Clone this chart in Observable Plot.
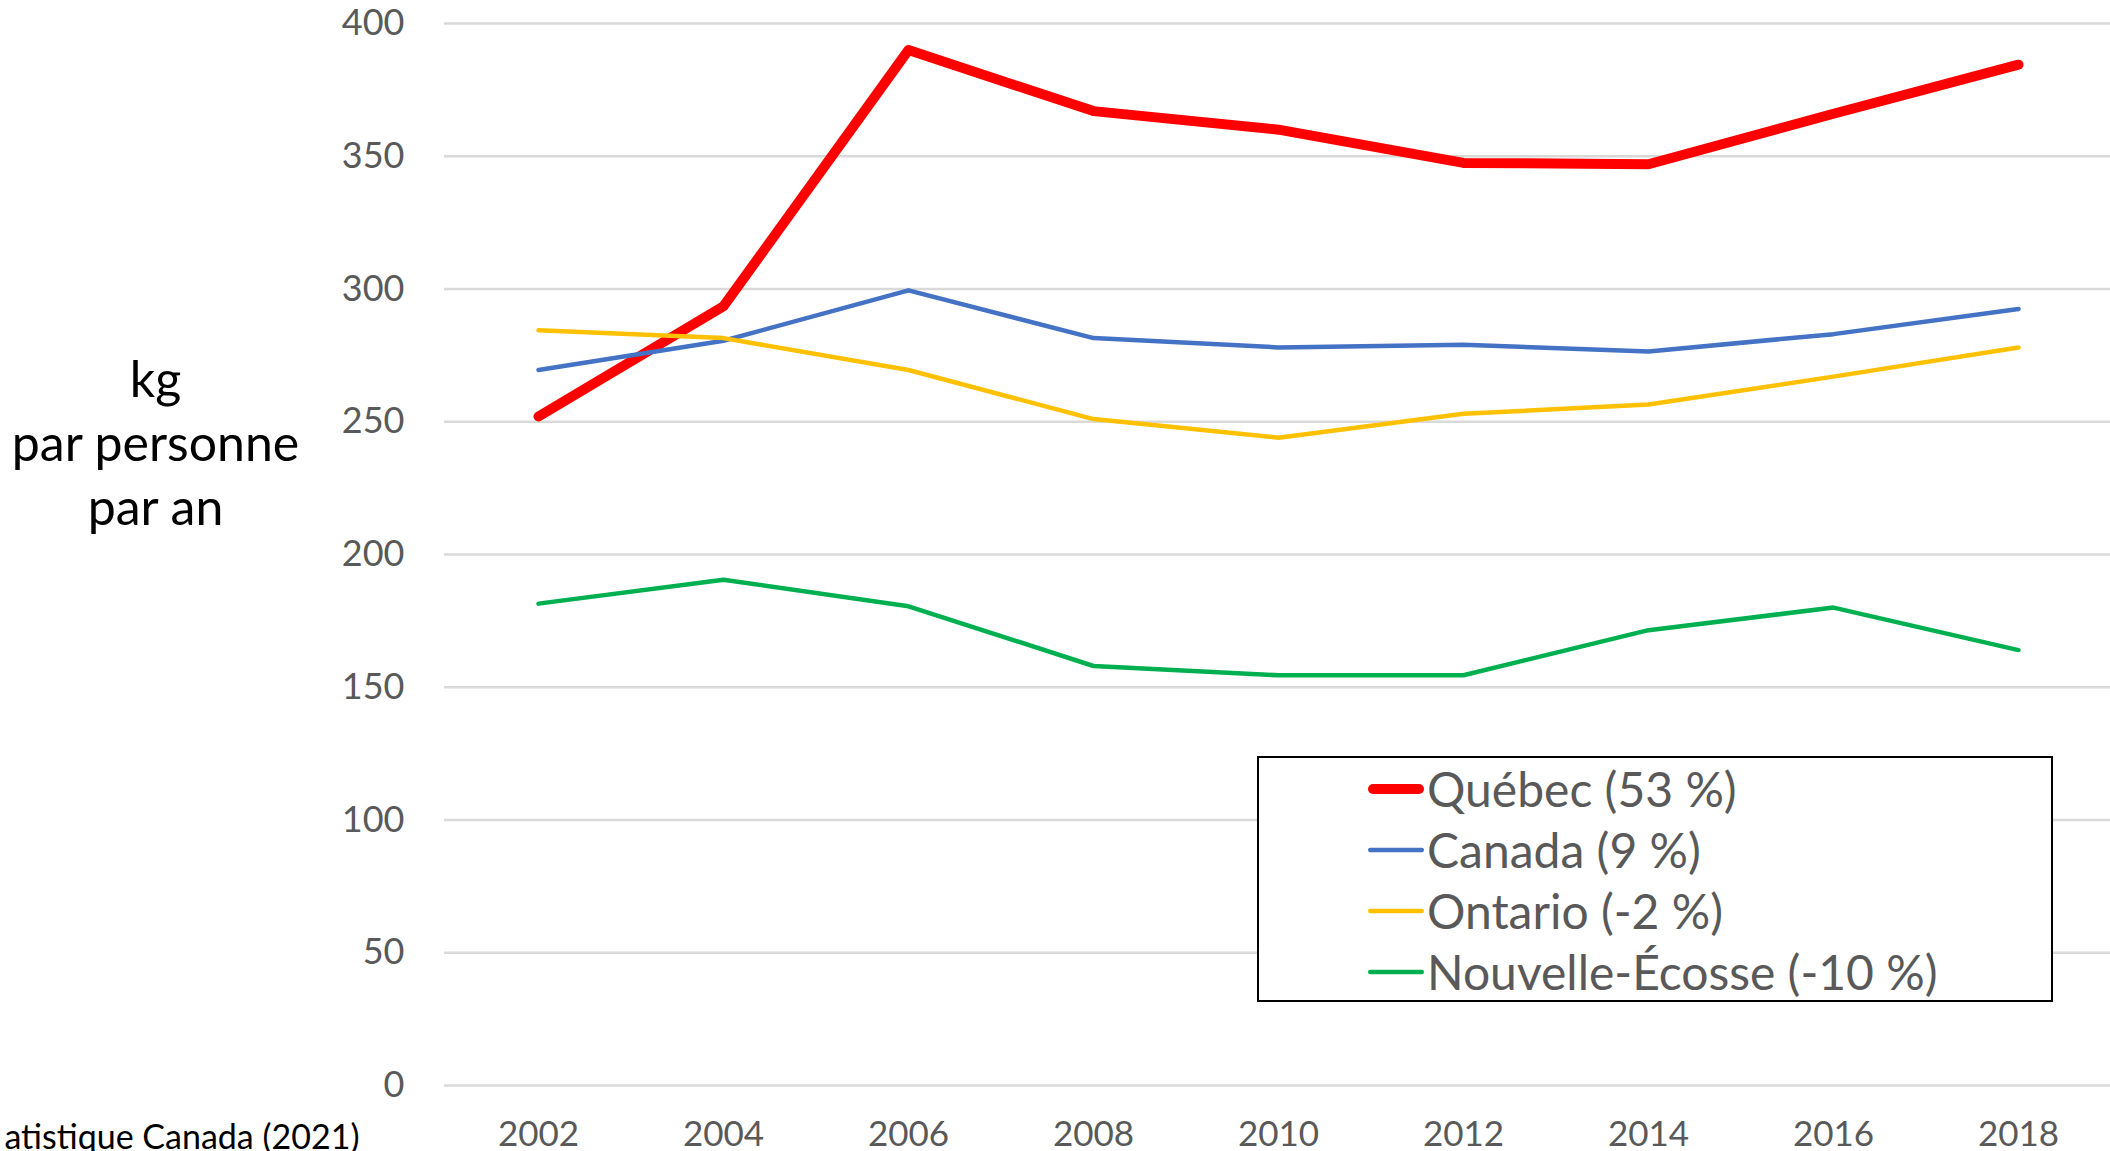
<!DOCTYPE html>
<html>
<head>
<meta charset="utf-8">
<script src="https://cdn.jsdelivr.net/npm/d3@7"></script>
<script src="https://cdn.jsdelivr.net/npm/@observablehq/plot@0.6"></script>
<style>
  html, body { margin: 0; padding: 0; background: white; }
  body { width: 2110px; height: 1151px; overflow: hidden; position: relative; font-family: Lato, "Open Sans", sans-serif; }
  #legend { position: absolute; left: 1257px; top: 756px; width: 796px; height: 246px; box-sizing: border-box;
            border: 2px solid #000; background: white; padding-left: 107px; padding-top: 0; }
  .row { height: 61px; display: flex; align-items: center; font-size: 48px; color: #595959; white-space: nowrap; }
  .row svg { margin-right: 1px; flex: none; }
</style>
</head>
<body>
<div id="chart"></div>
<div id="legend"></div>
<script>
// ---- data ----
const years = [2002, 2004, 2006, 2008, 2010, 2012, 2014, 2016, 2018];
const quebec = [252, 293.5, 390, 367, 360, 347.5, 347, 366, 384.5];
const canada = [269.5, 280.5, 299.5, 281.5, 278, 279, 276.5, 283, 292.5];
const ontario = [284.5, 281.5, 269.5, 251, 244, 253, 256.5, 267, 278];
const nouvelleEcosse = [181.5, 190.5, 180.5, 158, 154.5, 154.5, 171.5, 180, 164];
const seriesNames = ["Québec (53 %)", "Canada (9 %)", "Ontario (-2 %)", "Nouvelle-Écosse (-10 %)"];
const yTicks = [0, 50, 100, 150, 200, 250, 300, 350, 400];
const yTitle = "kg\npar personne\npar an";
const sourceText = "atistique Canada (2021)";

// ---- styles ----
const colors = ["#ff0000", "#4472c4", "#ffc000", "#00b050"];
const widths = [10, 4.5, 4.5, 4.5];

const seriesValues = [quebec, canada, ontario, nouvelleEcosse];
const rows = seriesValues.map((vals, s) =>
  years.map((yr, i) => ({ year: yr, value: vals[i], series: seriesNames[s] })));

const chart = Plot.plot({
  width: 2110,
  height: 1151,
  marginTop: 23,
  marginBottom: 66,
  marginLeft: 444,
  marginRight: -2,
  style: { fontFamily: "Lato, 'Open Sans', sans-serif", color: "#595959", background: "white", overflow: "visible" },
  x: { type: "point", domain: years, padding: 0.5 },
  y: { domain: [0, 400] },
  marks: [
    Plot.ruleY(yTicks, { stroke: "#d9d9d9", strokeWidth: 2.5 }),
    Plot.axisY({ ticks: yTicks, tickSize: 0, tickPadding: 40, fontSize: 36, label: null }),
    Plot.axisX({ tickSize: 0, tickPadding: 36, fontSize: 35, label: null, tickFormat: d => String(d) }),
    ...rows.map((data, s) => Plot.line(data, {
      x: "year", y: "value", stroke: colors[s], strokeWidth: widths[s],
      strokeLinecap: "round", strokeLinejoin: "round"
    })),
    Plot.text([yTitle], { frameAnchor: "left", dx: -289, dy: -114, textAnchor: "middle", lineAnchor: "middle",
      lineHeight: 1.28, fontSize: 50, fill: "black" }),
    Plot.text([sourceText], { frameAnchor: "bottom-left", dx: -85, dy: 53, textAnchor: "end", lineAnchor: "middle",
      fontSize: 34, fill: "black" })
  ]
});
document.getElementById("chart").appendChild(chart);

// legend
const legend = document.getElementById("legend");
seriesNames.forEach((name, s) => {
  const row = document.createElement("div");
  row.className = "row";
  const w = widths[s];
  row.innerHTML = `<svg width="60" height="20"><line x1="${2 + w / 2}" y1="10" x2="${58 - w / 2}" y2="10" stroke="${colors[s]}" stroke-width="${w}" stroke-linecap="round"/></svg>`;
  const span = document.createElement("span");
  span.textContent = name;
  row.appendChild(span);
  legend.appendChild(row);
});
</script>
</body>
</html>
